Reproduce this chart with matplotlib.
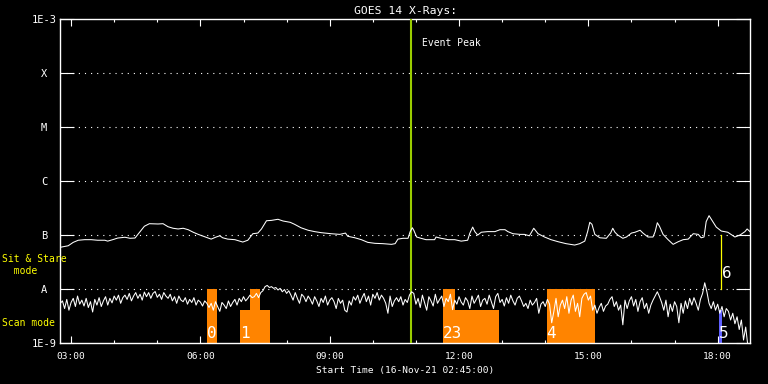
import numpy as np
import matplotlib
matplotlib.use('Agg')
import matplotlib.pyplot as plt
from matplotlib.ticker import FixedLocator, NullLocator, FuncFormatter

plt.rcParams['font.family'] = 'DejaVu Sans Mono'

start_hr = 2.75  # 02:45

# GOES long channel, minutes after start, flux in 1e-7 W/m^2
long_min = [0, 11, 18, 25, 34, 43, 52, 62, 66, 73,
            80, 90, 97, 104, 111, 117, 124, 136, 143, 150,
            157, 164, 171, 178, 185, 192, 201, 210, 217, 222,
            226, 233, 243, 254, 261, 268, 275, 280, 287, 294,
            303, 310, 320,
            326, 335, 345, 354, 363, 377, 389, 397, 400, 410,
            419, 428, 438, 449, 461, 466, 470, 477, 484, 487,
            490, 492, 496, 502, 509, 521, 523, 530, 540, 549,
            558, 567, 570, 574, 577, 581, 586, 595, 605, 612,
            619, 623, 630, 640,
            646, 653, 659, 665, 674, 683, 693, 704, 716, 723,
            730, 734, 737, 740, 744, 751, 760, 766, 769, 772,
            776, 783, 788, 795, 800, 807, 811, 818, 825, 828,
            831, 834, 839, 846, 853, 860, 867, 874, 881, 888,
            892, 896, 899, 903, 906, 913, 920, 929, 939, 946,
            953, 956, 960]
long_flux = [0.60, 0.64, 0.74, 0.81, 0.83, 0.83, 0.81, 0.81, 0.78, 0.83,
             0.89, 0.92, 0.88, 0.89, 1.17, 1.47, 1.64, 1.62, 1.64, 1.44,
             1.35, 1.31, 1.35, 1.27, 1.14, 1.04, 0.94, 0.85, 0.93, 0.98,
             0.90, 0.85, 0.83, 0.75, 0.81, 1.07, 1.10, 1.31, 1.86, 1.89,
             1.98, 1.84, 1.74,
             1.60, 1.38, 1.24, 1.17, 1.12, 1.07, 1.04, 1.10, 0.96, 0.90,
             0.83, 0.74, 0.71, 0.70, 0.68, 0.70, 0.85, 0.88, 0.88, 1.17,
             1.38, 1.24, 0.93, 0.88, 0.83, 0.83, 0.93, 0.88, 0.83, 0.83,
             0.78, 0.81, 1.09, 1.42, 1.17, 1.01, 1.14, 1.17, 1.17, 1.27,
             1.27, 1.17, 1.07, 1.04,
             1.04, 0.98, 1.35, 1.07, 0.93, 0.83, 0.76, 0.70, 0.66, 0.70,
             0.78, 1.17, 1.74, 1.60, 1.04, 0.90, 0.88, 1.10, 1.35, 1.14,
             1.01, 0.88, 0.93, 1.10, 1.14, 1.24, 1.10, 0.93, 0.93, 1.17,
             1.71, 1.47, 1.04, 0.83, 0.68, 0.76, 0.83, 0.85, 1.07, 1.04,
             0.90, 0.93, 1.79, 2.31, 2.00, 1.42, 1.20, 1.14, 0.93, 1.01,
             1.17, 1.31, 1.17]

# GOES short channel, one sample every 3 minutes, flux in 1e-9 W/m^2
short_step = 3
short_flux = [5.5, 6.1, 4.4, 6.5, 4.1, 5.7, 6.8, 4.8, 7.5, 5.3,
              6.3, 4.9, 6.8, 4.6, 5.9, 3.8, 6.5, 5.1, 7.0, 4.8,
              6.1, 7.3, 5.1, 6.8, 5.6, 7.5, 6.3, 7.8, 5.5, 7.0,
              7.8, 6.5, 8.4, 6.1, 7.5, 8.7, 6.8, 8.1, 6.3, 8.9,
              7.3, 8.7, 6.8, 8.4, 9.1, 7.1, 8.1, 6.5, 8.7, 7.5,
              6.8, 8.1, 6.1, 7.3, 5.5, 7.5, 6.3, 5.9, 7.0, 5.3,
              6.5, 5.7, 7.0, 5.1, 6.3, 5.8, 4.9, 6.1, 5.5, 4.6,
              5.5, 4.1, 5.9, 4.8, 3.9, 5.7, 5.1, 4.4, 6.1, 4.8,
              5.7, 6.5, 5.1, 6.8, 5.9, 7.3, 6.1, 6.8, 7.8, 7.0,
              7.3, 8.4, 7.0, 8.7, 9.4, 11.2, 11.8, 10.8, 11.2, 10.4,
              10.8, 9.7, 10.4, 9.0, 9.9, 8.4, 9.4,
              7.8, 6.3, 8.7, 6.8, 5.5, 8.1, 7.3, 5.9, 7.5, 6.5,
              5.3, 7.3, 6.1, 4.8, 6.8, 5.7, 7.5, 5.1, 6.3, 7.0,
              5.9, 4.4, 6.8, 5.5, 6.3, 4.1, 3.8, 6.1, 5.1, 7.3,
              6.3, 7.8, 5.5, 7.0, 8.4, 5.9, 7.5, 5.1, 8.1, 6.8,
              8.7, 6.3, 7.8, 6.8, 5.5, 3.6, 7.5, 4.8, 6.1, 7.0,
              5.9, 7.3, 5.1, 6.5, 5.7, 7.8, 9.0, 8.4, 5.3, 6.8,
              4.6, 7.8, 5.7, 4.1, 7.3, 6.1, 4.9, 8.1, 5.5, 6.5,
              7.5, 4.8, 6.8, 5.9, 8.1, 4.2, 6.3, 5.3, 7.3, 5.8,
              5.1, 7.0, 6.1, 4.4, 7.5, 5.5, 6.5, 7.8, 4.8, 6.3,
              6.8, 5.3, 7.8, 5.9, 4.4, 7.3, 8.4, 5.7, 6.5, 4.9,
              7.0, 5.5, 7.8, 6.1, 5.1, 6.8, 7.5,
              6.1, 4.8, 5.5, 4.4, 6.3, 5.1, 5.7, 6.8, 3.6, 5.3,
              5.9, 4.8, 6.5, 5.3, 2.4, 3.9, 6.8, 3.1, 5.1, 6.3,
              4.4, 7.3, 3.6, 6.3, 7.8, 3.9, 5.5, 3.1, 6.8, 8.1,
              8.7, 6.3, 7.5, 4.1, 5.1, 3.6, 4.6, 5.5, 3.9, 4.9,
              5.3, 6.5, 7.3, 4.8, 5.9, 4.1, 5.1, 2.2, 6.3, 4.4,
              6.1, 7.3, 4.9, 6.5, 3.9, 5.9, 7.0, 4.4, 5.5, 3.6,
              5.1, 6.3, 7.5, 9.0, 7.3, 5.7, 4.1, 6.3, 3.1, 5.3,
              3.9, 5.9, 4.8, 2.4, 5.5, 3.6, 6.1, 4.4, 6.8, 5.1,
              7.0, 5.5, 4.1, 6.5, 8.4, 13.2, 9.0, 5.5, 4.4, 5.9,
              4.1, 5.3, 3.6, 4.8, 3.1, 4.4, 3.9, 2.7, 3.6, 2.3,
              3.1, 1.8, 2.7, 1.15, 2.0, 0.9, 0.9]

# scan mode blocks (minutes after start)
scan_start = [204, 250, 264, 532, 532, 677]
scan_end = [218, 292, 278, 549, 610, 744]
scan_top = [1e-8, 4.1e-9, 1e-8, 1e-8, 4.1e-9, 1e-8]
scan_labels = ['0', '1', '23', '4']
scan_label_min = [204, 250, 532, 677]

# sit & stare observations
sit_start, sit_end, sit_top = 917, 921, 4.1e-9
stare_min, stare_lo, stare_hi = 920, 1e-8, 1e-7
event_min = 488

class_levels = [1e-3, 1e-4, 1e-5, 1e-6, 1e-7, 1e-8, 1e-9]
class_labels = ['1E-3', 'X', 'M', 'C', 'B', 'A', '1E-9']

def hr(m):
    return start_hr + np.asarray(m, dtype=float) / 60.0

fig = plt.figure(figsize=(7.68, 3.84), dpi=100, facecolor='black')
ax = fig.add_axes([60.3 / 768, 40.7 / 384, 689.7 / 768, 324 / 384])
ax.set_facecolor('black')
ax.set_yscale('log')
ax.set_ylim(1e-9, 1e-3)
ax.set_xlim(start_hr, start_hr + 16)

# dotted class lines
for lv in class_levels[1:-1]:
    ax.axhline(lv, color='white', lw=0.8, ls=(0, (1, 4.5)), zorder=1)

orange = '#ff8400'
for s, e, top in zip(scan_start, scan_end, scan_top):
    ax.bar(hr(s), top - 1e-9, width=(e - s) / 60.0, bottom=1e-9,
           align='edge', color=orange, lw=0, zorder=2)
ax.bar(hr(sit_start), sit_top - 1e-9, width=(sit_end - sit_start) / 60.0,
       bottom=1e-9, align='edge', color='#6060ff', lw=0, zorder=2)
ax.plot([hr(stare_min)] * 2, [stare_lo, stare_hi], color='#ffff00', lw=0.9, zorder=3)

short_t = hr(np.arange(len(short_flux)) * short_step)
ax.plot(short_t, np.array(short_flux) * 1e-9, color='white', lw=0.75, zorder=4)
ax.plot(hr(long_min), np.array(long_flux) * 1e-7, color='white', lw=0.75, zorder=4)

for lab, m in zip(scan_labels, scan_label_min):
    ax.text(hr(m), 1.25e-9, lab, color='white', fontsize=11.5,
            ha='left', va='baseline', zorder=5)
ax.text(hr(sit_start), 1.25e-9, '5', color='white', fontsize=11.5,
        ha='left', va='baseline', zorder=5)
ax.text(hr(stare_min + 1), 1.6e-8, '6', color='white', fontsize=11.5,
        ha='left', va='baseline', zorder=5)

ax.axvline(hr(event_min), color='#9acd00', lw=1.5, zorder=3)
ax.text(hr(event_min + 15), 3.6e-4, 'Event Peak', color='white',
        fontsize=7, ha='left', va='center')

for sp in ax.spines.values():
    sp.set_color('white')
    sp.set_linewidth(1)

ax.xaxis.set_major_locator(FixedLocator([3, 6, 9, 12, 15, 18]))
ax.xaxis.set_minor_locator(FixedLocator(np.arange(3, 19)))
ax.xaxis.set_major_formatter(FuncFormatter(lambda v, p: '%02d:00' % int(round(v))))
ax.tick_params(axis='x', which='major', direction='in', length=4.7, width=0.8,
               color='white', labelcolor='white', labelsize=6.8, pad=6,
               top=True)
ax.tick_params(axis='x', which='minor', direction='in', length=2.5, width=0.8,
               color='white', top=True)

ax.yaxis.set_major_locator(FixedLocator(class_levels))
ax.yaxis.set_minor_locator(NullLocator())
ax.set_yticklabels(class_labels)
ax.tick_params(axis='y', which='major', direction='in', length=10.4, width=0.8,
               color='white', labelcolor='white', labelsize=7.5, pad=11.7,
               right=True)
for t in ax.get_yticklabels():
    t.set_horizontalalignment('center')

ax.set_title('GOES 14 X-Rays:', color='white', fontsize=8.2, pad=4)
ax.set_xlabel('Start Time (16-Nov-21 02:45:00)', color='white', fontsize=6.8,
              labelpad=4)

fig.text(2 / 768, 1 - 264.7 / 384, 'Sit & Stare\n  mode', color='#ffff00',
         fontsize=7, ha='left', va='center', linespacing=1.3)
fig.text(2 / 768, 1 - 323.3 / 384, 'Scan mode', color='#ffff00',
         fontsize=7, ha='left', va='center')

fig.savefig('out.png', dpi=100, facecolor='black')
